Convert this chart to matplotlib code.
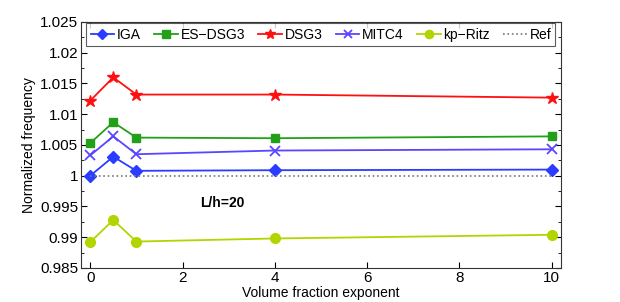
import numpy as np
import matplotlib
matplotlib.use('Agg')
import matplotlib.pyplot as plt
from matplotlib.ticker import MultipleLocator

plt.rcParams['font.family'] = ['Liberation Sans', 'DejaVu Sans']

x = [0, 0.5, 1, 4, 10]
iga = [1.0000, 1.0031, 1.0008, 1.0009, 1.0010]
es_dsg3 = [1.0053, 1.0087, 1.0062, 1.0061, 1.0064]
dsg3 = [1.0122, 1.0160, 1.0132, 1.0132, 1.0127]
mitc4 = [1.0033, 1.0064, 1.0035, 1.0041, 1.0043]
kp_ritz = [0.9892, 0.9928, 0.9893, 0.9898, 0.9904]
ref = [1.0, 1.0, 1.0, 1.0, 1.0]

fig = plt.figure(figsize=(6.2, 3.02), dpi=100)
ax = fig.add_axes([0.1306, 0.1126, 0.7742, 0.8146])

ax.plot(x, iga, '-D', color='#2a3cff', lw=1.3, ms=6, label='IGA')
ax.plot(x, es_dsg3, '-s', color='#22a01a', lw=1.3, ms=6, label='ES\u2212DSG3')
ax.plot(x, dsg3, '-*', color='#ff1010', lw=1.3, ms=9, label='DSG3')
ax.plot(x, mitc4, '-x', color='#5a46ff', lw=1.3, ms=7, mew=1.3, label='MITC4')
ax.plot(x, kp_ritz, '-o', color='#b4d400', lw=1.3, ms=7, label='kp\u2212Ritz')
ax.plot(x, ref, ':', color='#777777', lw=1.2, label='Ref')

ax.set_xlim(-0.2, 10.2)
ax.set_ylim(0.985, 1.025)
ax.set_xticks([0, 2, 4, 6, 8, 10])
ax.set_yticks([0.985, 0.99, 0.995, 1.0, 1.005, 1.01, 1.015, 1.02, 1.025])
ax.set_yticklabels(['0.985', '0.99', '0.995', '1', '1.005', '1.01', '1.015', '1.02', '1.025'])
ax.yaxis.set_minor_locator(MultipleLocator(0.0025))
ax.tick_params(which='both', direction='in', top=True, right=True, labelsize=11, pad=2)
ax.tick_params(which='major', length=4)
ax.tick_params(which='minor', length=2.5)
for s in ax.spines.values():
    s.set_linewidth(0.8)
    s.set_color('#333333')

ax.set_xlabel('Volume fraction exponent', fontsize=10, labelpad=1)
ax.set_ylabel('Normalized frequency', fontsize=10, labelpad=3)
ax.text(2.86, 0.9956, 'L/h=20', fontsize=10, fontweight='bold', ha='center', va='center')

leg = ax.legend(loc='upper center', ncol=6, fontsize=10, frameon=True, fancybox=False,
                handlelength=1.7, handletextpad=0.2, columnspacing=0.95, markerscale=0.85,
                borderpad=0.3, borderaxespad=0.1, bbox_to_anchor=(0.5, 1.0))
leg.get_frame().set_edgecolor('#333333')
leg.get_frame().set_linewidth(0.8)

fig.savefig('out.png', dpi=100)
